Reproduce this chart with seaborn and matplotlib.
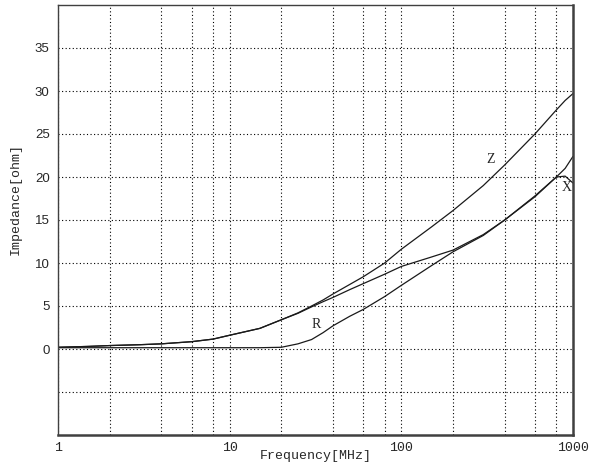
import matplotlib
matplotlib.use("Agg")
import matplotlib.pyplot as plt
import numpy as np
import pandas as pd
import seaborn as sns
from matplotlib.ticker import FixedLocator, NullFormatter, FixedFormatter

# Impedance vs frequency of a ferrite bead
freq_mhz = [1, 1.5, 2, 3, 4, 6, 8, 10, 15, 20, 25, 30, 35, 40, 50, 60, 80,
            100, 150, 200, 300, 400, 600, 800, 900, 1000]
z_ohm = [0.2, 0.3, 0.4, 0.5, 0.6, 0.85, 1.15, 1.6, 2.4, 3.4, 4.2, 5.0, 5.7,
         6.4, 7.5, 8.4, 10.0, 11.6, 14.2, 16.1, 19.0, 21.4, 25.0, 27.8, 28.9, 29.7]
x_ohm = [0.2, 0.3, 0.4, 0.5, 0.6, 0.85, 1.15, 1.6, 2.4, 3.4, 4.15, 4.9, 5.5,
         6.0, 6.9, 7.6, 8.7, 9.6, 10.7, 11.5, 13.3, 15.0, 17.8, 20.0, 20.1, 19.3]
r_ohm = [0.15, 0.15, 0.15, 0.15, 0.15, 0.15, 0.15, 0.15, 0.15, 0.2, 0.6, 1.1, 1.9,
         2.7, 3.8, 4.6, 6.1, 7.4, 9.7, 11.3, 13.2, 15.0, 17.7, 20.0, 21.0, 22.4]

series_names = ["Z", "X", "R"]
# label anchor (frequency, ohm) for each curve name
label_pos = {"Z": (330, 22.0), "R": (32, 2.8), "X": (916, 18.8)}

y_ticks = [-5, 0, 5, 10, 15, 20, 25, 30, 35]
y_tick_labels = ["", "0", "5", "10", "15", "20", "25", "30", "35"]
x_major = [1, 10, 100, 1000]
x_major_labels = ["1", "10", "100", "1000"]
x_minor = [2, 4, 6, 8, 20, 40, 60, 80, 200, 400, 600, 800]

df = pd.DataFrame({
    "freq": freq_mhz * 3,
    "ohm": z_ohm + x_ohm + r_ohm,
    "curve": sum([[n] * len(freq_mhz) for n in series_names], []),
})

sns.set_style("white")
plt.rcParams["font.family"] = ["Liberation Mono", "DejaVu Sans Mono"]

fig = plt.figure(figsize=(5.92, 4.70), dpi=100)
ax = fig.add_axes([58 / 592, 35 / 470, 515 / 592, 430 / 470])

sns.lineplot(data=df, x="freq", y="ohm", units="curve", estimator=None,
             color="#1a1a1a", linewidth=0.9, ax=ax, legend=False, sort=True)

ax.set_xscale("log")
ax.set_xlim(1, 1000)
ax.set_ylim(-10, 40)

ax.xaxis.set_major_locator(FixedLocator(x_major))
ax.xaxis.set_major_formatter(FixedFormatter(x_major_labels))
ax.xaxis.set_minor_locator(FixedLocator(x_minor))
ax.xaxis.set_minor_formatter(NullFormatter())
ax.yaxis.set_major_locator(FixedLocator(y_ticks))
ax.yaxis.set_major_formatter(FixedFormatter(y_tick_labels))

grid_kw = dict(color="black", linestyle=(0, (1, 2.2)), linewidth=0.8)
ax.grid(True, which="both", axis="x", **grid_kw)
ax.grid(True, which="major", axis="y", **grid_kw)

ax.tick_params(axis="both", which="both", length=0)
ax.tick_params(axis="x", pad=5, labelsize=9.5)
ax.tick_params(axis="y", pad=6, labelsize=9.5)
for lab in ax.get_yticklabels():
    lab.set_family(["Liberation Sans", "DejaVu Sans"])

# frame: thin on the left/top, heavier on the right/bottom
for side, s in ax.spines.items():
    s.set_visible(True)
    s.set_color("#404040")
    s.set_linewidth(1.0 if side in ("left", "top") else 1.8)

ax.set_xlabel("Frequency[MHz]", fontsize=9.5)
ax.set_ylabel("Impedance[ohm]", fontsize=9.5)
ax.xaxis.set_label_coords(0.5, -0.035)
ax.xaxis.label.set_va("top")
ax.yaxis.set_label_coords(-0.083, 0.549)
ax.yaxis.label.set_va("center")

for name, (fx, fy) in label_pos.items():
    ax.text(fx, fy, name, fontsize=10, ha="center", va="center",
            family=["Liberation Serif", "DejaVu Serif"])

fig.savefig("out.png", dpi=100, facecolor="white")
